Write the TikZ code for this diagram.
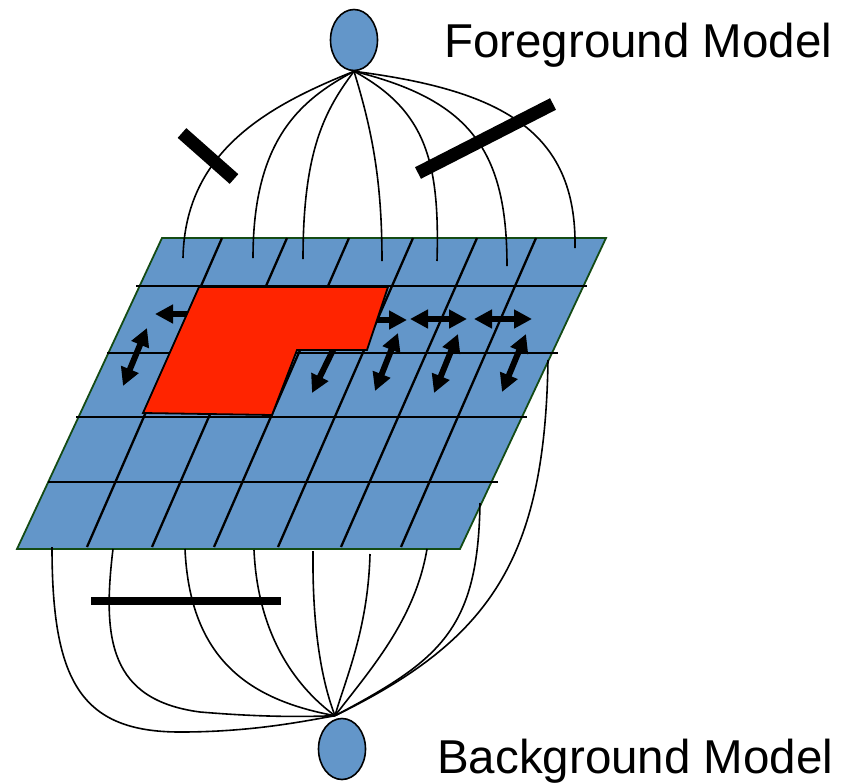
\documentclass[tikz,border=0pt]{standalone}
\usepackage{fontspec}
\setmainfont{Liberation Sans}
\usetikzlibrary{arrows.meta,shapes.geometric}

\definecolor{cellblue}{RGB}{99,150,201}
\definecolor{maskred}{RGB}{255,36,0}
\definecolor{edgegreen}{RGB}{20,75,20}

\begin{document}
\begin{tikzpicture}[x=1pt,y=-1pt,
modelnode/.style={ellipse,draw,line width=1.6pt,fill=cellblue,minimum width=47pt,minimum height=61pt,inner sep=0pt},
modeltext/.style={font=\fontsize{47.5}{57}\selectfont,anchor=base west,inner sep=0pt},
wire/.style={line width=1.6pt},
gridline/.style={line width=2.3pt},
weightbar/.style={line width=13pt},
flow/.style={line width=6pt,-{Triangle[length=18pt,width=18pt]}},
twoway/.style={line width=6pt,{Triangle[length=18pt,width=18pt]}-{Triangle[length=18pt,width=18pt]}} ]

\useasboundingbox (0,0) rectangle (848,782);

\node[modelnode](fg) at (354,40) {};
\node[modelnode](bg) at (342,749) {};
\node[modeltext](fgtext) at (444,57) {Foreground Model};
\node[modeltext](bgtext) at (437,773) {Background Model};
\coordinate (bgtip) at ([xshift=-7pt,yshift=2pt]bg.north);

% the image plane
\draw[edgegreen,line width=1.8pt,fill=cellblue] (162,238) -- (606,238) -- (460,549) -- (17,549) -- cycle;

\draw[gridline] (136,286) -- (587,286);
\draw[gridline] (107,353) -- (558,353);
\draw[gridline] (76,417) -- (527,417);
\draw[gridline] (48,482) -- (498,482);
\foreach \t/\b in {222/87, 287/152, 349/214, 413/278, 477/341, 536/401}
  \draw[gridline] (\t,238) -- (\b,547);

% neighbour interactions
\draw[flow] (195,314) -- (155,314);
\draw[twoway] (147,328) -- (123,386);
\draw[flow] (372,320) -- (407,320);
\draw[twoway] (410,319) -- (467,319);
\draw[twoway] (474,319) -- (532,319);
\draw[flow] (336,344) -- (312,393);
\draw[twoway] (398,333) -- (375,391);
\draw[twoway] (458,334) -- (434,393);
\draw[twoway] (526,334) -- (502,392);

% object region
\draw[line width=1.8pt,fill=maskred] (199,287) -- (388,287) -- (367,350) -- (297,350) -- (272,415) -- (143,413) -- cycle;

% links to the foreground model
\coordinate (f1) at (183,258);
\coordinate (f2) at (253,258);
\coordinate (f3) at (303,259);
\coordinate (f4) at (382,261);
\coordinate (f5) at (437,261);
\coordinate (f6) at (507,266);
\coordinate (f7) at (575,248);

\draw[wire] (fg.south) .. controls (270,105) and (185,150) .. (f1);
\draw[wire] (fg.south) .. controls (300,100) and (253,140) .. (f2);
\draw[wire] (fg.south) .. controls (325,110) and (303,150) .. (f3);
\draw[wire] (fg.south) .. controls (372,130) and (382,180) .. (f4);
\draw[wire] (fg.south) .. controls (425,110) and (440,160) .. (f5);
\draw[wire] (fg.south) .. controls (470,100) and (507,150) .. (f6);
\draw[wire] (fg.south) .. controls (500,90) and (577,130) .. (f7);

% links to the background model
\coordinate (b1) at (52,547);
\coordinate (b2) at (113,549);
\coordinate (b3) at (185,549);
\coordinate (b4) at (254,550);
\coordinate (b5) at (313,551);
\coordinate (b6) at (370,554);
\coordinate (b7) at (427,549);
\coordinate (b8) at (480,503);
\coordinate (b9) at (548,360);

\draw[wire] (b1) .. controls (52,680) and (80,732) .. (180,732) .. controls (250,732) and (300,722) .. (bgtip);
\draw[wire] (b2) .. controls (102,640) and (110,700) .. (200,712) .. controls (260,717) and (300,717) .. (bgtip);
\draw[wire] (b3) .. controls (190,660) and (250,700) .. (bgtip);
\draw[wire] (b4) .. controls (258,640) and (300,690) .. (bgtip);
\draw[wire] (b5) .. controls (312,640) and (325,690) .. (bgtip);
\draw[wire] (b6) .. controls (368,630) and (345,680) .. (bgtip);
\draw[wire] (b7) .. controls (415,620) and (370,670) .. (bgtip);
\draw[wire] (b8) .. controls (478,630) and (440,660) .. (bgtip);
\draw[wire] (b9) .. controls (545,560) and (490,640) .. (bgtip);

% cut edges
\draw[weightbar] (182,133) -- (234,179);
\draw[weightbar] (418,173) -- (553,104);
\draw[weightbar,line width=8pt] (91,601) -- (281,601);

\end{tikzpicture}
\end{document}
